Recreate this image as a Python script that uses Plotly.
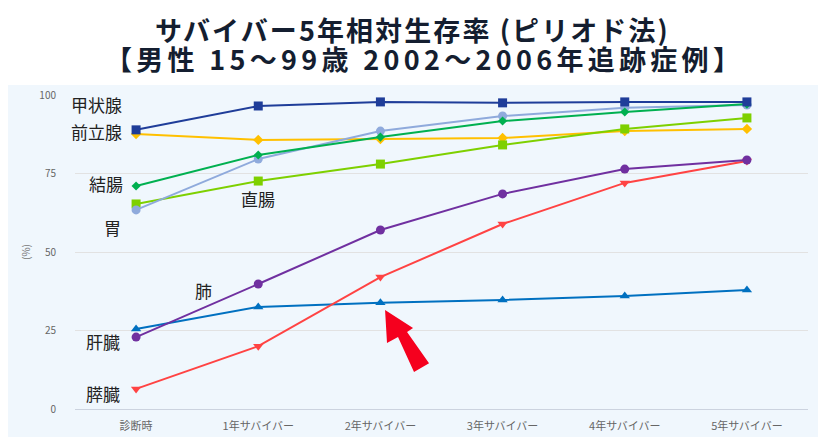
import plotly.graph_objects as go

categories = ["診断時", "1年サバイバー", "2年サバイバー", "3年サバイバー", "4年サバイバー", "5年サバイバー"]

thyroid = [88.9, 96.5, 97.8, 97.5, 97.8, 97.8]
prostate = [87.6, 85.7, 86.0, 86.3, 88.5, 89.2]
stomach = [63.4, 79.6, 88.5, 93.3, 95.9, 96.8]
colon = [71.0, 80.9, 86.6, 91.7, 94.6, 97.1]
rectum = [65.3, 72.6, 78.0, 84.1, 89.2, 92.7]
lung = [22.9, 39.8, 57.0, 68.5, 76.4, 79.3]
liver = [25.5, 32.5, 33.8, 34.7, 36.0, 37.9]
pancreas = [6.4, 20.0, 42.0, 58.9, 72.0, 79.0]

y_ticks = [0, 25, 50, 75, 100]

series = [
    ("前立腺", prostate, "#ffc000", "diamond", 8),
    ("直腸", rectum, "#7ed000", "square", 9),
    ("胃", stomach, "#8faadc", "circle", 9),
    ("結腸", colon, "#00b050", "diamond", 7),
    ("甲状腺", thyroid, "#1f3d99", "square", 9),
    ("肝臓", liver, "#0070c0", "triangle-up", 9),
    ("膵臓", pancreas, "#ff4343", "triangle-down", 9),
    ("肺", lung, "#7030a0", "circle", 9),
]

x_idx = list(range(len(categories)))

fig = go.Figure()
for name, vals, color, sym, size in series:
    fig.add_trace(go.Scatter(
        x=x_idx, y=vals, mode="lines+markers", name=name,
        line=dict(color=color, width=2),
        marker=dict(color=color, symbol=sym, size=size),
        showlegend=False,
    ))

# series labels
labels = [
    ("甲状腺", -0.32, 97.0),
    ("前立腺", -0.32, 88.5),
    ("結腸", -0.25, 71.8),
    ("胃", -0.19, 57.8),
    ("直腸", 1.0, 67.0),
    ("肺", 0.55, 37.6),
    ("肝臓", -0.27, 21.5),
    ("膵臓", -0.27, 5.0),
]
for txt, lx, ly in labels:
    fig.add_annotation(x=lx, y=ly, text=txt, showarrow=False, xref="x", yref="y",
                       font=dict(family="Noto Sans CJK JP", size=17, color="#222222"))

# title lines
title_lines = [
    ("サバイバー5年相対生存率 (ピリオド法)", 0.461, 1.21, 2.1),
    ("【男性 15～99歳 2002～2006年追跡症例】", 0.477, 1.115, 4.3),
]
for txt, tx, ty, sp in title_lines:
    fig.add_annotation(x=tx, y=ty, xref="paper", yref="paper",
                       text=f'<span style="letter-spacing:{sp}px">{txt}</span>', showarrow=False,
                       xanchor="center", yanchor="middle",
                       font=dict(family="Noto Sans CJK JP", size=27, color="#141e30", weight="bold"))

# light blue panel
fig.add_shape(type="rect", xref="paper", yref="paper", x0=-0.094, x1=1.0136, y0=-0.2, y1=1.032,
              fillcolor="#f0f7fd", line=dict(width=0), layer="below")

# red arrow
arrow_path = ("M 2.038 31.5 L 2.054 21.0 L 2.144 22.9 L 2.275 11.8 "
              "L 2.398 14.6 L 2.218 24.5 L 2.267 25.8 Z")
fig.add_shape(type="path", xref="x", yref="y", path=arrow_path,
              fillcolor="#f5001e", line=dict(width=0), layer="above")

fig.update_layout(
    width=827, height=437,
    margin=dict(l=67, r=27, t=87, b=36),
    paper_bgcolor="white",
    plot_bgcolor="rgba(0,0,0,0)",
    font=dict(family="Noto Sans CJK JP"),
)
fig.update_xaxes(
    tickmode="array", tickvals=x_idx, ticktext=categories,
    range=[-0.5, 5.5], showgrid=False, zeroline=False,
    showline=True, linecolor="#ccd3df", linewidth=1,
    tickfont=dict(size=11, color="#666666"), ticks="", ticklabelstandoff=7,
)
fig.update_yaxes(
    range=[0, 100], tickmode="array", tickvals=y_ticks,
    showgrid=True, gridcolor="#e2e2e2", gridwidth=1, zeroline=False,
    tickfont=dict(size=10, color="#666666"), ticks="", ticklabelstandoff=18,
    title=dict(text="(%)", font=dict(size=10, color="#777777"), standoff=6),
)

fig.write_html("out.html")
